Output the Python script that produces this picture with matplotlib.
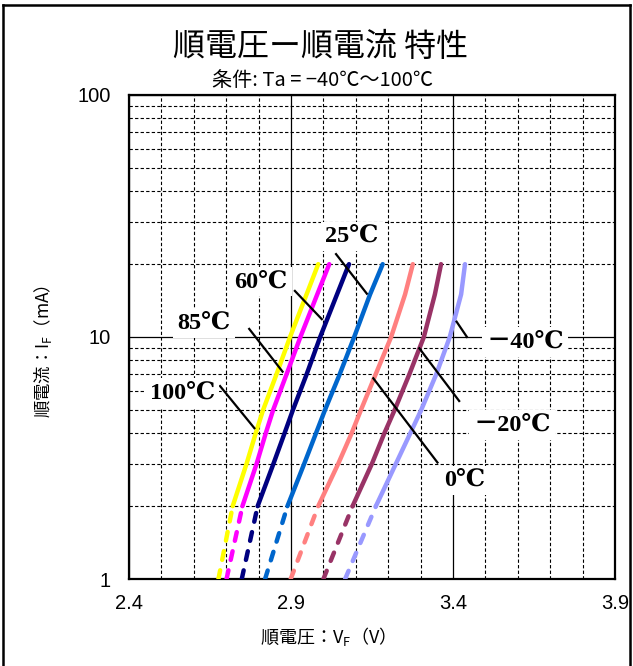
import matplotlib.pyplot as plt
from matplotlib.lines import Line2D
from matplotlib.ticker import FixedLocator, FixedFormatter, LogLocator, NullFormatter, MultipleLocator

cjk = ['Noto Sans CJK JP', 'DejaVu Sans']
serif = ['Liberation Serif', 'DejaVu Serif', 'Noto Sans CJK JP']

# forward current (mA) and forward voltage (V) per ambient temperature
current_ma = [1, 2, 3, 4, 5, 7, 10, 15, 20]
vf_100 = [2.676, 2.720, 2.763, 2.791, 2.814, 2.855, 2.897, 2.948, 2.984]
vf_85 = [2.701, 2.750, 2.794, 2.822, 2.845, 2.886, 2.929, 2.981, 3.018]
vf_60 = [2.748, 2.797, 2.846, 2.880, 2.906, 2.948, 2.990, 3.042, 3.079]
vf_25 = [2.820, 2.889, 2.941, 2.977, 3.005, 3.050, 3.095, 3.144, 3.183]
vf_0 = [2.899, 2.984, 3.046, 3.087, 3.116, 3.161, 3.209, 3.252, 3.276]
vf_m20 = [3.000, 3.090, 3.150, 3.188, 3.220, 3.265, 3.310, 3.344, 3.363]
vf_m40 = [3.067, 3.162, 3.224, 3.268, 3.302, 3.348, 3.390, 3.425, 3.437]

series = [vf_100, vf_85, vf_60, vf_25, vf_0, vf_m20, vf_m40]
colors = ['#FFFF00', '#FF00FF', '#000080', '#0066CC', '#FF8080', '#993366', '#9999FF']

x_ticks = [2.4, 2.9, 3.4, 3.9]
y_ticks = [1, 10, 100]

# label text, text position, leader line start/end (V, mA)
labels = [
    ('100℃', (2.564, 5.87), (2.681, 6.27), (2.787, 4.20)),
    ('85℃', (2.631, 11.4), (2.771, 10.8), (2.874, 7.19)),
    ('60℃', (2.807, 16.9), (2.912, 15.5), (2.995, 11.85)),
    ('25℃', (3.088, 26.1), (3.039, 22.0), (3.134, 15.1)),
    ('0℃', (3.437, 2.56), (3.154, 6.75), (3.352, 3.03)),
    ('－20℃', (3.582, 4.33), (3.296, 8.98), (3.419, 5.44)),
    ('－40℃', (3.622, 9.54), (3.411, 11.57), (3.443, 10.0)),
]

fig = plt.figure(figsize=(6.33, 6.66), dpi=100)
ax = fig.add_axes([0.2038, 0.1306, 0.7678, 0.7268])
ax.set_yscale('log')
ax.set_xlim(2.4, 3.9)
ax.set_ylim(1, 100)

## GRID ##
ax.xaxis.set_major_locator(FixedLocator(x_ticks))
ax.xaxis.set_major_formatter(FixedFormatter([str(v) for v in x_ticks]))
ax.xaxis.set_minor_locator(MultipleLocator(0.1))
ax.yaxis.set_major_locator(FixedLocator(y_ticks))
ax.yaxis.set_major_formatter(FixedFormatter([str(v) for v in y_ticks]))
ax.yaxis.set_minor_locator(LogLocator(base=10, subs=range(2, 10)))
ax.yaxis.set_minor_formatter(NullFormatter())
ax.grid(which='major', color='black', linewidth=0.9, linestyle='-')
ax.grid(which='minor', color='black', linewidth=0.8, linestyle=(0, (3, 2)))
ax.set_axisbelow(True)
ax.tick_params(which='both', length=0)
ax.tick_params(axis='x', pad=11)
ax.tick_params(axis='y', pad=13)
for lab in ax.get_xticklabels() + ax.get_yticklabels():
    lab.set_family(['Liberation Sans', 'DejaVu Sans'])
    lab.set_fontsize(14.5)
for s in ax.spines.values():
    s.set_linewidth(1.6)

## CURVES ##
for vf, c in zip(series, colors):
    ax.plot(vf[:2], current_ma[:2], color=c, linewidth=3.2,
            linestyle=(0, (2.0, 2.4)), dash_capstyle='round', zorder=3)
    ax.plot(vf[1:], current_ma[1:], color=c, linewidth=3.2,
            solid_capstyle='round', solid_joinstyle='round', zorder=3)

## LABELS ##
for text, pos, p0, p1 in labels:
    ax.plot([p0[0], p1[0]], [p0[1], p1[1]], color='black', linewidth=1.6, zorder=4)
    ax.text(pos[0], pos[1], text, family=serif, fontsize=17.5, fontweight='bold',
            ha='center', va='center', zorder=5,
            bbox=dict(facecolor='white', edgecolor='none', pad=3))

## TITLES ##
fig.text(0.507, 0.929, '順電圧ー順電流 特性', family=cjk, fontsize=23,
         ha='center', va='center')
fig.text(0.51, 0.879, '条件: Ta = −40℃〜100℃', family=cjk, fontsize=14.5,
         ha='center', va='center')
ax.set_xlabel(r'順電圧：V$_\mathregular{F}$（V）', family=cjk, fontsize=13)
ax.set_ylabel(r'順電流：I$_\mathregular{F}$（mA）', family=cjk, fontsize=12.5)
ax.xaxis.set_label_coords(0.399, -0.095)
ax.yaxis.set_label_coords(-0.154, 0.471)

# outer frame
for xs, ys in [([0.0047, 0.0047], [0.0, 0.9925]),
               ([0.0047, 0.9953], [0.9925, 0.9925]),
               ([0.9953, 0.9953], [0.0, 0.9925])]:
    fig.add_artist(Line2D(xs, ys, color='black', linewidth=1.8,
                          transform=fig.transFigure))

fig.savefig('out.png', dpi=100)
